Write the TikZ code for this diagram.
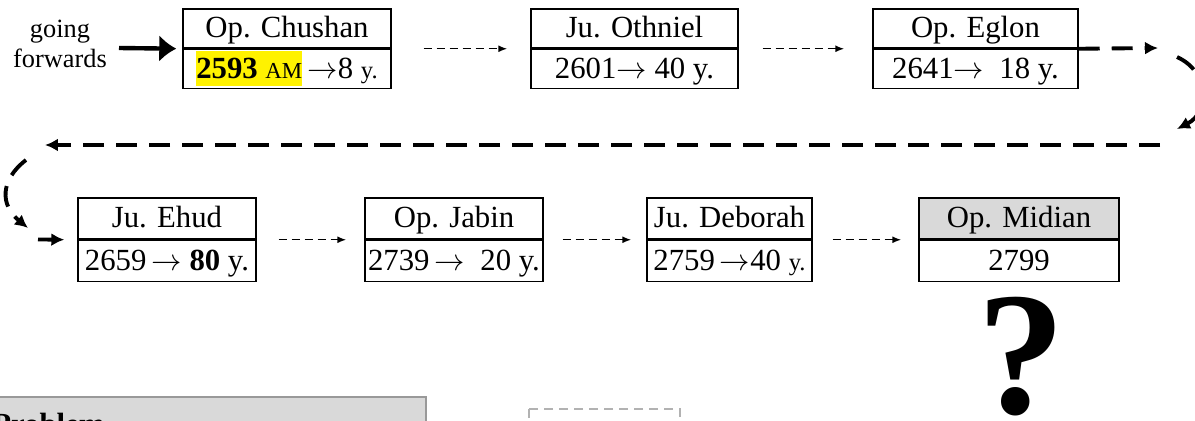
\documentclass[tikz,border=0pt]{standalone}
\usepackage{fontspec}
\setmainfont{Liberation Serif}
\usetikzlibrary{
positioning,
arrows.meta
}
\tikzset{
cell/.style={
draw,
line width=0.85pt,
inner sep=0pt,
text height=13pt,
text depth=2.3pt,
minimum height=0.78cm,
font=\fontsize{17.5}{21}\selectfont
},
link/.style={
-{Latex[length=1.8mm,width=1.4mm]},
line width=0.85pt,
dash pattern=on 0.16cm off 0.1cm
},
wrap/.style={
-{Latex[length=2.6mm,width=2.6mm]},
line width=2.2pt,
dash pattern=on 0.42cm off 0.24cm
}
}

\begin{document}
\begin{tikzpicture}[x=0.02cm, y=-0.02cm]
\useasboundingbox (0,0) rectangle (1195,420);
\clip (0,0) rectangle (1195,420);

% first row
\node[align=center, font=\fontsize{15}{17}\selectfont] (fwdtxt) at (60,44) {going\\forwards};
\node[cell, minimum width=4.16cm] (chu) at (287,28.5) {Op. Chushan};
\node[cell, minimum width=4.16cm, below=0pt of chu] (chuy) {\setlength{\fboxsep}{0pt}\colorbox{yellow}{\rule[-4.6pt]{0pt}{20.4pt}\textbf{2593} {\fontsize{13}{15}\selectfont AM}}\,$\rightarrow$8 {\fontsize{14}{15}\selectfont y.}};
\node[cell, minimum width=4.14cm] (oth) at (634.5,28.5) {Ju. Othniel};
\node[cell, minimum width=4.14cm, below=0pt of oth] (othy) {2601$\rightarrow$ 40 y.};
\node[cell, minimum width=4.1cm] (egl) at (975.5,28.5) {Op. Eglon};
\node[cell, minimum width=4.1cm, below=0pt of egl] (egly) {2641$\rightarrow$\ \ 18 y.};

% second row
\node[cell, minimum width=3.56cm, minimum height=0.82cm] (ehu) at (167,218.5) {Ju. Ehud};
\node[cell, minimum width=3.56cm, minimum height=0.82cm, below=0pt of ehu] (ehuy) {2659$\,\rightarrow$\ \textbf{80} y.};
\node[cell, minimum width=3.56cm, minimum height=0.82cm] (jab) at (454,218.5) {Op. Jabin};
\node[cell, minimum width=3.56cm, minimum height=0.82cm, below=0pt of jab] (jaby) {2739$\,\rightarrow$\ \ 20 y.};
\node[cell, minimum width=3.3cm, minimum height=0.82cm] (deb) at (729.5,218.5) {Ju. Deborah};
\node[cell, minimum width=3.3cm, minimum height=0.82cm, below=0pt of deb] (deby) {2759$\,\rightarrow$40 {\fontsize{14}{15}\selectfont y.}};
\node[cell, minimum width=4cm, minimum height=0.82cm, fill=black!15] (mid) at (1019,218.5) {Op. Midian};
\node[cell, minimum width=4cm, minimum height=0.82cm, below=0pt of mid] (midy) {2799};
\node[anchor=base, inner sep=0pt, font=\bfseries\fontsize{100}{104}\selectfont] (qmark) at (1021,413) {?};

% turning points
\coordinate (fwd) at (119,48);
\coordinate (turnR) at (1158,48);
\coordinate (bendA) at (1177,57);
\coordinate (bendB) at (1177,129);
\coordinate (backR) at (1160,145);
\coordinate (backL) at (45,145);
\coordinate (bendC) at (26,160);
\coordinate (bendD) at (28,228);
\coordinate (entry) at (38,239.5);

\draw[-{Latex[length=3.4mm,width=5.4mm]}, line width=2.5pt, shorten >=0.12cm] (fwd) -- (chu.south west);
\draw[link, shorten <=0.64cm, shorten >=0.46cm] (chu.south east) -- (oth.south west);
\draw[link, shorten <=0.48cm, shorten >=0.56cm] (oth.south east) -- (egl.south west);
\draw[wrap] (egl.south east) -- (turnR);
\draw[wrap] (bendA) .. controls (1210,72) and (1210,112) .. (bendB);
\draw[wrap] (backR) -- (backL);
\draw[wrap] (bendC) .. controls (0,180) and (0,205) .. (bendD);
\draw[wrap, shorten >=0.26cm] (entry) -- (ehu.south west);
\draw[link, shorten <=0.44cm, shorten >=0.36cm] (ehu.south east) -- (jab.south west);
\draw[link, shorten <=0.38cm, shorten >=0.3cm] (jab.south east) -- (deb.south west);
\draw[link, shorten <=0.4cm, shorten >=0.34cm] (deb.south east) -- (mid.south west);

% below the picture
\draw[fill=black!15, draw=black!40, line width=0.9pt] (-5,397) rectangle (426,480);
\node[anchor=base west, inner sep=0pt, font=\fontsize{17.5}{21}\selectfont\bfseries] (prob) at (-8,434) {Problem};
\draw[black!30, line width=0.9pt, dash pattern=on 0.18cm off 0.12cm] (529,409) rectangle (680,480);
\end{tikzpicture}
\end{document}
